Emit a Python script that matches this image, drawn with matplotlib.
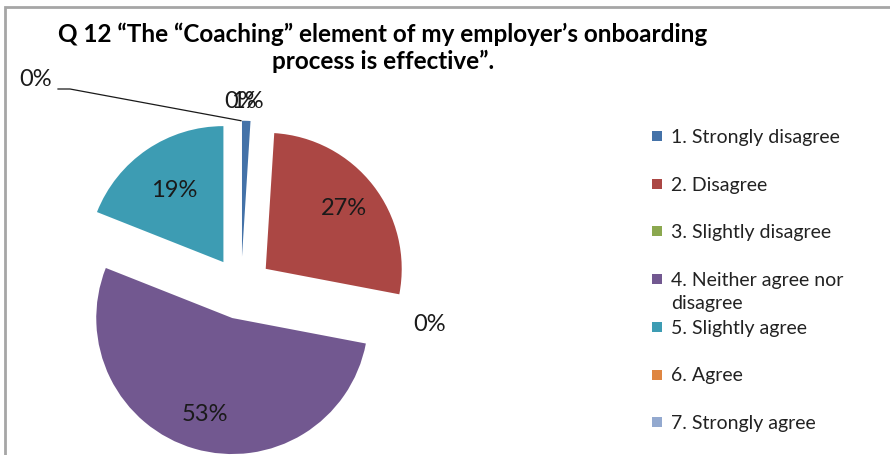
"""Q12 onboarding survey — exploded pie of the 'Coaching' responses."""

import matplotlib.pyplot as plt
from matplotlib.patches import Rectangle
import numpy as np

W, H = 890, 456

RESPONSES = [
    "1. Strongly disagree",
    "2. Disagree",
    "3. Slightly disagree",
    "4. Neither agree nor\ndisagree",
    "5. Slightly agree",
    "6. Agree",
    "7. Strongly agree",
]
SHARE_PCT = [1, 27, 0, 53, 19, 0, 0]
COLORS = ["#4472A8", "#AB4744", "#8BA84F", "#725890", "#3D9CB3", "#DF8641", "#93A9CF"]

TITLE = "Q 12 \u201cThe \u201cCoaching\u201d element of my employer\u2019s onboarding\nprocess is effective\u201d."

plt.rcParams["font.family"] = ["Lato", "DejaVu Sans"]


def fx(x):
    return x / W


def fy(y):
    return 1 - y / H


fig = plt.figure(figsize=(W / 100, H / 100), dpi=100)
fig.patch.set_facecolor("white")

# chart area frame (only top/left edges fall inside the image)
fig.patches.append(Rectangle((fx(5), -0.2), 1.3, fy(8) + 0.2, transform=fig.transFigure,
                             fill=False, edgecolor="#A6A6A6", linewidth=2))

# pie axes laid out in pixel units: centre at (241, 289), radius 136 px
cx, cy, R = 241, 289, 136
ax = fig.add_axes([0, 0, 1, 1])
wedges, _ = ax.pie(SHARE_PCT, colors=COLORS, startangle=90, counterclock=False,
                   explode=[0.23] * len(SHARE_PCT), radius=1,
                   wedgeprops=dict(linewidth=0))
ax.set_xlim(-cx / R, (W - cx) / R)
ax.set_ylim(-(H - cy) / R, cy / R)
ax.set_aspect("equal", adjustable="box")
ax.axis("off")

# data labels: inside the big slices, just outside the small ones
label_dist = [1.15, 0.73, 1.18, 0.73, 0.65, None, 1.15]
for w, pct, d in zip(wedges, SHARE_PCT, label_dist):
    if d is None:
        continue
    mid = np.deg2rad((w.theta1 + w.theta2) / 2)
    x = w.center[0] + d * w.r * np.cos(mid)
    y = w.center[1] + d * w.r * np.sin(mid)
    ax.text(x, y, f"{pct}%", ha="center", va="center", fontsize=17, color="#1a1a1a")

# the "6. Agree" label was pushed aside, with a leader line to its slice
w6 = wedges[5]
mid6 = np.deg2rad((w6.theta1 + w6.theta2) / 2)
tip = (w6.center[0] + w6.r * np.cos(mid6), w6.center[1] + w6.r * np.sin(mid6))
lx, ly = (36 - cx) / R, (cy - 80) / R
ax.text(lx, ly, f"{SHARE_PCT[5]}%", ha="center", va="center", fontsize=17, color="#1a1a1a")
ax.plot([(58 - cx) / R, (70 - cx) / R, tip[0]], [(cy - 90) / R, (cy - 90) / R, tip[1]],
        color="#1a1a1a", linewidth=0.9)

fig.text(fx(383), fy(48), TITLE, ha="center", va="center", fontsize=17.5,
         fontweight="bold", color="#000000", linespacing=1.2)

# legend, one row per response
row0, step = 137, 47.7
for i, (lab, col) in enumerate(zip(RESPONSES, COLORS)):
    yc = row0 + i * step
    fig.patches.append(Rectangle((fx(652), fy(yc + 5)), 10 / W, 10 / H,
                                 transform=fig.transFigure, facecolor=col, edgecolor="none"))
    fig.text(fx(671), fy(yc - 8), lab, ha="left", va="top", fontsize=14,
             color="#222222", linespacing=1.4)

fig.savefig("out.png", dpi=100, facecolor="white")
